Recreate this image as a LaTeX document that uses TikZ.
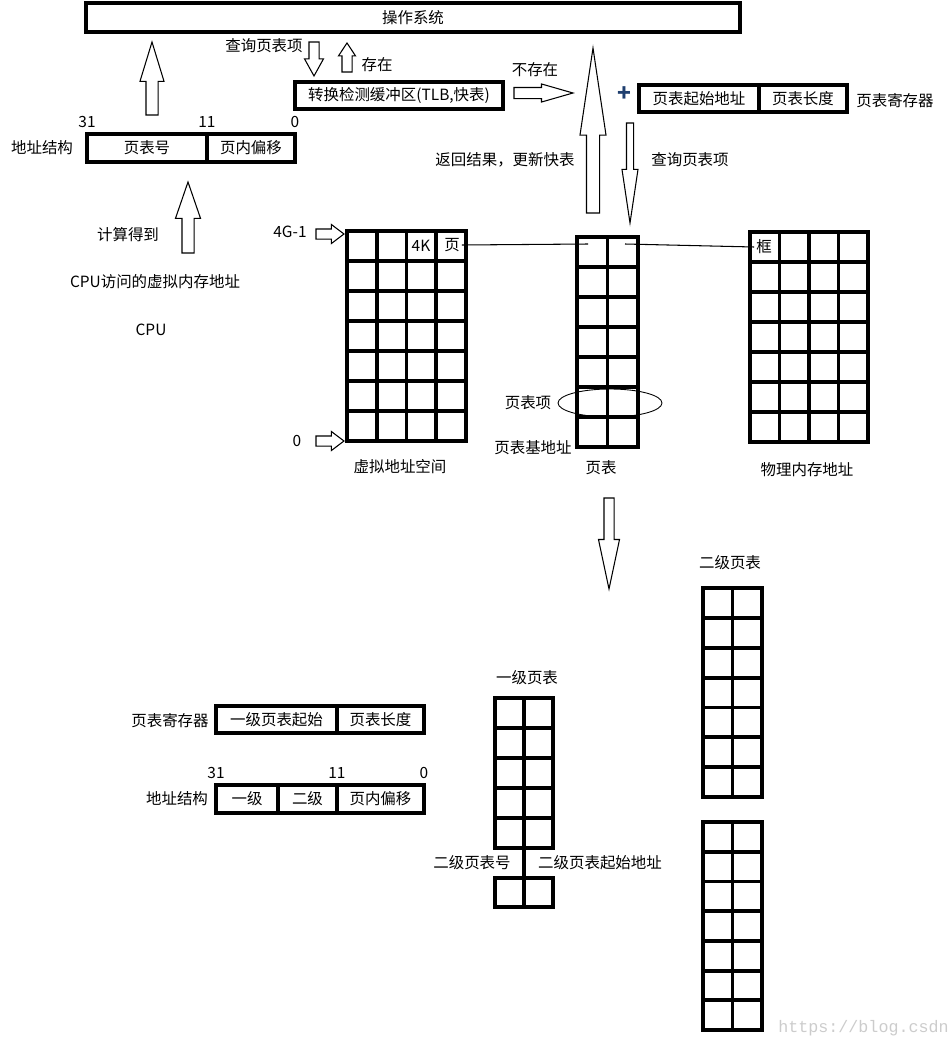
\documentclass[tikz,border=0pt]{standalone}
\usepackage{fontspec}
\setmainfont{Noto Sans CJK SC}
\newfontfamily\wmfont{Liberation Mono}
\usepackage{xcolor}
\usetikzlibrary{positioning,calc,shapes.geometric,shapes.arrows}

\definecolor{plusblue}{RGB}{31,63,111}

% inner lines of a cell grid: node name, cols-1, rows-1
\newcommand{\gridlines}[3]{%
  \foreach \i [evaluate=\i as \f using \i/(#2+1)] in {1,...,#2}
    \draw[cellline] ($(#1.north west)!\f!(#1.north east)$) -- ($(#1.south west)!\f!(#1.south east)$);
  \foreach \j [evaluate=\j as \f using \j/(#3+1)] in {1,...,#3}
    \draw[cellline] ($(#1.north west)!\f!(#1.south west)$) -- ($(#1.north east)!\f!(#1.south east)$);
}

\begin{document}
\begin{tikzpicture}[x=0.02cm, y=-0.02cm,
    every node/.style={font=\fontsize{8.8}{10}\selectfont},
    regbox/.style={draw, line width=1.8pt, outer sep=0pt, inner sep=0pt, minimum height=0.55cm, fill=white},
    cellbox/.style={draw, line width=2.2pt, outer sep=0pt, inner sep=0pt},
    cellline/.style={line width=2.2pt},
    mapline/.style={line width=0.6pt},
    harrow/.style={single arrow, draw, line width=0.6pt, fill=white, inner xsep=0pt, outer sep=0pt,
                   single arrow head indent=0pt, anchor=tail},
    hsize/.style n args={5}{minimum height=#1, minimum width=#2, single arrow head extend=#3,
                            single arrow tip angle=#4, inner ysep=#5}]
  \useasboundingbox (0,0) rectangle (950,1041);

  % top part
  \node[regbox, minimum width=13.08cm, minimum height=0.58cm] (os) at (413,17.5) {操作系统};
  \node[regbox, minimum width=4.16cm, minimum height=0.54cm] (tlb) at (399,95.5) {转换检测缓冲区(TLB,快表)};
  \node[regbox, minimum width=2.4cm, minimum height=0.54cm] (start) at (699,98.5) {页表起始地址};
  \node[regbox, minimum width=1.76cm, minimum height=0.54cm, right=0pt of start] (len) {页表长度};
  \node (regname) at (895,101) {页表寄存器};
  \node[font=\fontsize{13}{13}\selectfont\bfseries, text=plusblue] (plus) at (624,94) {+};

  \node[regbox, minimum width=2.4cm, minimum height=0.56cm] (pno) at (147,148) {页表号};
  \node[regbox, minimum width=1.76cm, minimum height=0.56cm, right=0pt of pno] (off) {页内偏移};
  \node (addrname) at (42,148) {地址结构};
  \node[above=0pt] (b31) at (pno.north west) {31};
  \node[above=0pt] (b11) at (pno.north east) {11};
  \node[above=0pt] (b0) at (off.north east) {0};

  \node[harrow, hsize={1.46cm}{0.46cm}{0.12cm}{34}{0.11cm}, rotate=90] (toos) at (152,115) {};
  \node[harrow, hsize={0.68cm}{0.36cm}{0.09cm}{58}{0.09cm}, rotate=-90] (askdown) at (314,42) {};
  \node[harrow, hsize={0.58cm}{0.32cm}{0.07cm}{67}{0.09cm}, rotate=90] (hitup) at (347,72) {};
  \node[harrow, hsize={1.18cm}{0.34cm}{0.07cm}{32}{0.1cm}] (miss) at (514,93) {};
  \node[harrow, hsize={3.3cm}{0.5cm}{0.13cm}{17}{0.12cm}, rotate=90] (ret) at (593,213) {};
  \node[harrow, hsize={2cm}{0.3cm}{0.09cm}{17}{0.06cm}, rotate=-90] (lookup) at (630,123) {};
  \node[harrow, hsize={1.42cm}{0.48cm}{0.13cm}{38}{0.11cm}, rotate=90] (calc) at (188,253) {};

  \node (ask) at (264,46) {查询页表项};
  \node (hit) at (377,65) {存在};
  \node (misslbl) at (535,70) {不存在};
  \node (retlbl) at (505,160) {返回结果，更新快表};
  \node (looklbl) at (690,160) {查询页表项};
  \node (calclbl) at (128,235) {计算得到};
  \node (vaddr) at (155,282) {CPU访问的虚拟内存地址};
  \node (cpu) at (151,330) {CPU};

  % virtual space, page table, physical memory
  \node[cellbox, minimum width=2.38cm, minimum height=4.2cm] (vas) at (406.5,336) {};
  \gridlines{vas}{3}{6}
  \node[cellbox, minimum width=1.22cm, minimum height=4.2cm] (pt) at (607.5,342) {};
  \gridlines{pt}{1}{6}
  \node[cellbox, minimum width=2.36cm, minimum height=4.2cm] (phys) at (809,337) {};
  \gridlines{phys}{3}{6}

  \node (fourk) at (421,246) {4K};
  \node[inner sep=1pt] (pg) at (452,245) {页};
  \node[inner sep=1pt] (frm) at (764,247) {框};
  \coordinate (ptin1) at (588,244);
  \coordinate (ptin2) at (625,244);
  \draw[mapline] (pg.east) -- (ptin1);
  \draw[mapline] (ptin2) -- (frm.west);

  \node (top) at (290,232) {4G-1};
  \node (bot) at (297,441) {0};
  \node[harrow, hsize={0.56cm}{0.36cm}{0.09cm}{74}{0.09cm}] (toptr) at (316,234) {};
  \node[harrow, hsize={0.56cm}{0.36cm}{0.09cm}{74}{0.09cm}] (botptr) at (316,441) {};

  \node[draw, ellipse, line width=0.5pt, inner sep=0pt, minimum width=2.08cm, minimum height=0.56cm] (pte) at (610,403) {};
  \node (ptelbl) at (528,403) {页表项};
  \node (base) at (533,448) {页表基地址};
  \node (vaslbl) at (400,467) {虚拟地址空间};
  \node (ptlbl) at (601,468) {页表};
  \node (physlbl) at (807,470) {物理内存地址};

  \node[harrow, hsize={1.82cm}{0.4cm}{0.11cm}{24}{0.09cm}, rotate=-90] (twolevel) at (609,498) {};

  % two-level paging
  \node (reg2name) at (170,721) {页表寄存器};
  \node[regbox, minimum width=2.42cm, minimum height=0.54cm] (l1start) at (276.5,719.5) {一级页表起始};
  \node[regbox, minimum width=1.74cm, minimum height=0.54cm, right=0pt of l1start] (l1len) {页表长度};

  \node (addr2name) at (177,799) {地址结构};
  \node[regbox, minimum width=1.24cm, minimum height=0.56cm] (lv1) at (247,799) {一级};
  \node[regbox, minimum width=1.18cm, minimum height=0.56cm, right=0pt of lv1] (lv2) {二级};
  \node[regbox, minimum width=1.74cm, minimum height=0.56cm, right=0pt of lv2] (off2) {页内偏移};
  \node[above=0pt] (c31) at (lv1.north west) {31};
  \node[above=0pt] (c11) at (lv2.north east) {11};
  \node[above=0pt] (c0) at (off2.north east) {0};

  \node (l1lbl) at (527,678) {一级页表};
  \node[cellbox, minimum width=1.16cm, minimum height=3cm] (l1a) at (524,773) {};
  \gridlines{l1a}{1}{4}
  \node[cellbox, minimum width=1.16cm, minimum height=0.58cm] (l1b) at (524,892.5) {};
  \gridlines{l1b}{1}{0}
  \draw[cellline] (l1a.south) -- (l1b.north);
  \node (l2no) at (472,863) {二级页表号};
  \node (l2base) at (600,863) {二级页表起始地址};

  \node (l2lbl) at (730,563) {二级页表};
  \node[cellbox, minimum width=1.18cm, minimum height=4.18cm] (l2a) at (732.5,692.5) {};
  \gridlines{l2a}{1}{6}
  \node[cellbox, minimum width=1.18cm, minimum height=4.16cm] (l2b) at (732.5,926) {};
  \gridlines{l2b}{1}{6}

  \node[font=\wmfont\fontsize{9.5}{10}\selectfont, text=gray!40, anchor=south west, inner sep=0pt] (wm) at (778,1036) {https://blog.csdn};
\end{tikzpicture}
\end{document}
